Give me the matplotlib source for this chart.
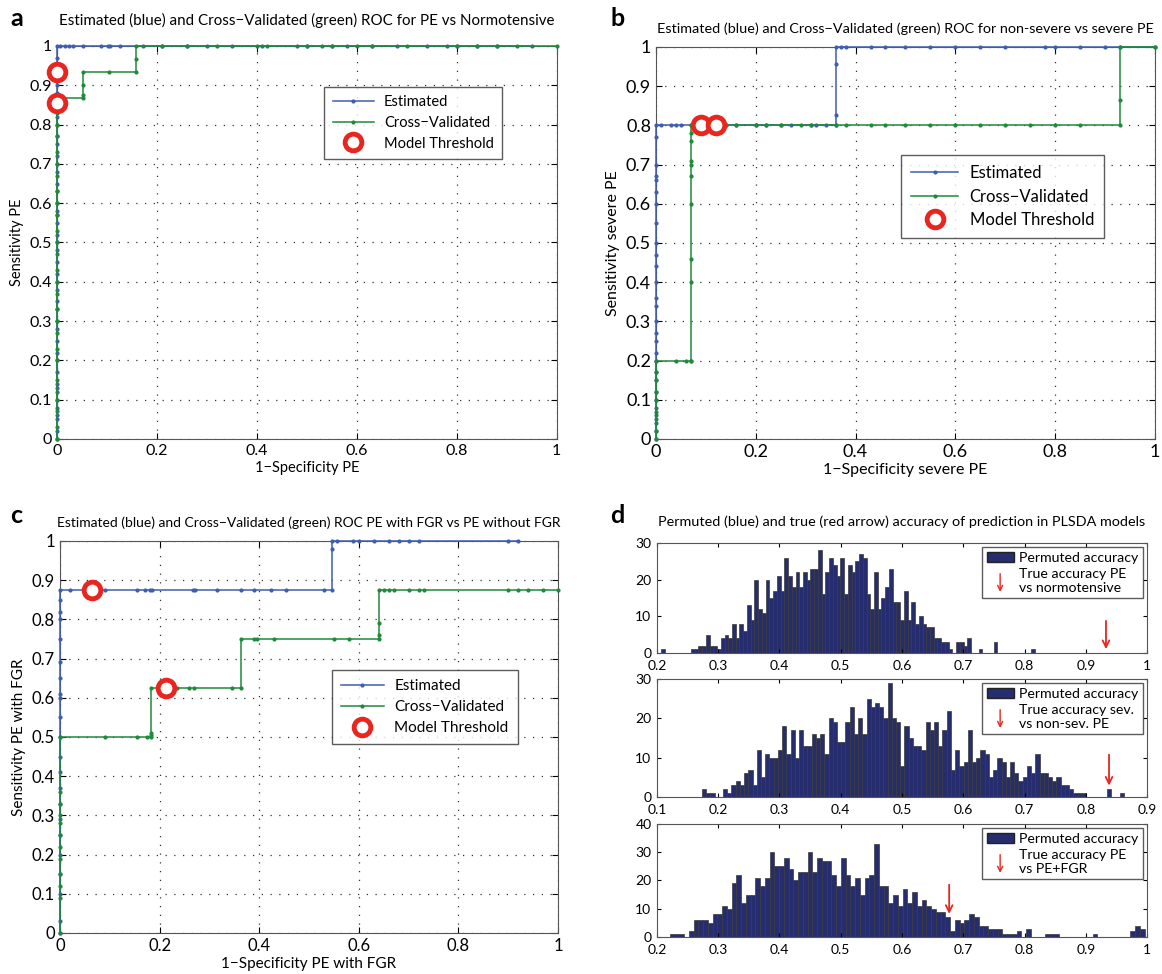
import numpy as np
import matplotlib
matplotlib.use("Agg")
from matplotlib import pyplot as plt
from matplotlib.patches import Patch, FancyArrowPatch
from matplotlib.lines import Line2D
from matplotlib.legend_handler import HandlerBase

plt.rcParams['font.family'] = ['Lato', 'DejaVu Sans']

# ---------------- data ----------------
# panel a: PE vs normotensive
a_est_y0 = [0, 0.02, 0.05, 0.06, 0.08, 0.1, 0.13, 0.14, 0.17, 0.2, 0.22, 0.25, 0.28, 0.3,
            0.33, 0.35, 0.38, 0.4, 0.42, 0.45, 0.48, 0.5, 0.52, 0.55, 0.57, 0.58, 0.6, 0.63,
            0.65, 0.68, 0.7, 0.72, 0.75, 0.77, 0.8, 0.82, 0.85, 0.87, 0.88, 0.9, 0.92, 0.93,
            0.95, 0.97, 1.0]
a_est_x1 = [0.006, 0.016, 0.025, 0.033, 0.053, 0.089, 0.103, 0.106, 0.126, 0.173, 0.21,
            0.26, 0.3, 0.35, 0.41, 0.48, 0.5, 0.55, 0.58, 0.63, 0.68, 0.74, 0.78, 0.8,
            0.84, 0.88, 0.95]
a_cv_y0 = [0, 0.03, 0.07, 0.1, 0.12, 0.15, 0.2, 0.23, 0.27, 0.3, 0.33, 0.37, 0.4, 0.43,
           0.47, 0.5, 0.53, 0.57, 0.6, 0.63, 0.67, 0.7, 0.73, 0.77, 0.8, 0.83, 0.867]
a_cv_step_x = [0.053, 0.053, 0.053, 0.053, 0.105, 0.158, 0.158, 0.158]
a_cv_step_y = [0.867, 0.875, 0.9, 0.933, 0.933, 0.933, 0.967, 1.0]
a_cv_x1 = [0.21, 0.26, 0.32, 0.4, 0.42, 0.5, 0.53, 0.55, 0.6, 0.63, 0.7, 0.8, 0.84, 0.88, 0.92, 1.0]
a_thr_x = [0, 0]
a_thr_y = [0.933, 0.855]

# panel b: non-severe vs severe PE
b_est_y0 = [0, 0.02, 0.04, 0.06, 0.08, 0.1, 0.12, 0.15, 0.17, 0.2, 0.22, 0.25, 0.27, 0.3,
            0.34, 0.36, 0.4, 0.44, 0.47, 0.5, 0.55, 0.6, 0.63, 0.66, 0.67, 0.7, 0.77, 0.8]
b_est_x8 = [0.01, 0.03, 0.04, 0.05, 0.07, 0.09, 0.12, 0.14, 0.16, 0.2, 0.22, 0.25, 0.27,
            0.31, 0.32, 0.34, 0.36]
b_est_step_x = [0.36, 0.36, 0.36]
b_est_step_y = [0.826, 0.956, 1.0]
b_est_x1 = [0.37, 0.38, 0.43, 0.46, 0.5, 0.55, 0.6, 0.65, 0.7, 0.78, 0.8, 0.85, 0.9, 0.93, 1.0]
b_cv_y0 = [0, 0.02, 0.05, 0.07, 0.1, 0.12, 0.15, 0.17, 0.2]
b_cv_x2 = [0.04, 0.06, 0.07]
b_cv_y7 = [0.2, 0.4, 0.46, 0.6, 0.67, 0.7, 0.71, 0.76, 0.78, 0.8]
b_cv_x8 = [0.09, 0.12, 0.14, 0.16, 0.2, 0.22, 0.25, 0.29, 0.31, 0.36, 0.38, 0.43, 0.46,
           0.5, 0.55, 0.6, 0.65, 0.7, 0.75, 0.8, 0.85, 0.93]
b_cv_step_y = [0.865, 1.0]
b_thr_x = [0.09, 0.121]
b_thr_y = [0.8, 0.8]

# panel c: PE with FGR vs PE without FGR
c_est_y0 = [0, 0.03, 0.1, 0.15, 0.2, 0.25, 0.29, 0.33, 0.37, 0.41, 0.45, 0.5, 0.55, 0.6,
            0.61, 0.65, 0.69, 0.75, 0.8, 0.82, 0.85, 0.875]
c_est_x875 = [0.021, 0.064, 0.09, 0.154, 0.171, 0.181, 0.184, 0.268, 0.271, 0.315,
              0.363, 0.39, 0.424, 0.454, 0.53, 0.546]
c_est_step_y = [0.98, 1.0]
c_est_x1 = [0.556, 0.589, 0.6, 0.63, 0.66, 0.68, 0.7, 0.72, 0.9, 0.92]
c_cv_y0 = [0, 0.09, 0.12, 0.15, 0.19, 0.22, 0.25, 0.28, 0.3, 0.33, 0.36, 0.5]
c_cv_x5 = [0.09, 0.155, 0.175, 0.182]
c_cv_y182 = [0.505, 0.51, 0.625]
c_cv_x625 = [0.213, 0.236, 0.26, 0.27, 0.345, 0.364]
c_cv_x75 = [0.39, 0.395, 0.43, 0.55, 0.58, 0.64]
c_cv_y64 = [0.76, 0.79, 0.875]
c_cv_x875 = [0.65, 0.66, 0.67, 0.7, 0.72, 0.73, 0.9, 0.92, 0.94, 0.97, 1.0]
c_thr_x = [0.064, 0.213]
c_thr_y = [0.875, 0.625]

# panel d: permutation histograms (100 bins each)
h1_counts = [1, 0, 0, 0, 0, 0, 0, 0, 1, 1, 2, 2, 5, 2, 2, 1, 4, 5, 4, 8,
             4, 8, 6, 13, 9, 20, 12, 11, 20, 15, 17, 21, 17, 26, 21, 18, 22, 18, 22, 20,
             23, 23, 28, 16, 22, 26, 24, 21, 26, 16, 24, 22, 25, 27, 26, 16, 12, 22, 12, 15,
             18, 23, 14, 14, 9, 17, 9, 14, 8, 10, 8, 7, 7, 4, 4, 3, 3, 1, 0, 3,
             3, 2, 4, 0, 0, 1, 0, 0, 0, 3, 0, 0, 0, 0, 0, 0, 0, 0, 0, 1]
h1_range = (0.2096, 0.8135)
h1_true = 0.933

h2_counts = [2, 1, 1, 0, 0, 2, 1, 3, 4, 3, 6, 7, 3, 12, 5, 11, 10, 10, 12, 18,
             11, 17, 10, 17, 13, 13, 16, 15, 16, 11, 20, 19, 14, 14, 19, 23, 16, 20, 16, 25,
             23, 24, 23, 20, 29, 20, 19, 8, 18, 15, 13, 13, 12, 19, 17, 19, 13, 17, 22, 7,
             12, 8, 9, 17, 9, 10, 12, 11, 5, 7, 10, 9, 5, 9, 6, 4, 5, 8, 6, 11,
             6, 6, 5, 4, 5, 3, 3, 2, 1, 1, 1, 0, 0, 0, 0, 0, 2, 0, 0, 1]
h2_range = (0.1767, 0.859)
h2_true = 0.838

h3_counts = [1, 1, 1, 0, 2, 6, 6, 6, 5, 8, 8, 11, 10, 19, 22, 12, 15, 15, 21, 18,
             21, 30, 25, 25, 28, 24, 20, 23, 23, 30, 23, 28, 27, 27, 22, 18, 28, 22, 18, 21,
             15, 21, 22, 33, 18, 18, 12, 15, 11, 17, 12, 16, 11, 13, 11, 10, 9, 9, 7, 2,
             6, 5, 6, 8, 7, 4, 4, 3, 3, 3, 1, 1, 1, 2, 0, 3, 0, 0, 0, 1,
             1, 1, 0, 0, 0, 0, 0, 0, 0, 1, 0, 0, 0, 0, 0, 0, 0, 2, 4, 3]
h3_range = (0.225, 0.9924)
h3_true = 0.677

# ---------------- styles ----------------
BLUE = '#3f5fae'
GREEN = '#1e8a3a'
RED = '#e8251f'
NAVY = '#262d6e'

fig = plt.figure(figsize=(11.62, 9.74), dpi=100)


class ArrowHandler(HandlerBase):
    # thin red down arrow for the histogram legends
    def create_artists(self, legend, orig_handle, xdescent, ydescent, width, height,
                       fontsize, trans):
        xc = width / 2 - xdescent
        a = FancyArrowPatch((xc, height * 1.5 - ydescent), (xc, -0.9 * height - ydescent),
                            arrowstyle='->', mutation_scale=9, color=RED, lw=1.0,
                            transform=trans)
        return [a]


def style_roc(ax, title, xlabel, ylabel, tsize, lsize, ksize, tpad):
    ax.set_xlim(0, 1)
    ax.set_ylim(0, 1)
    ax.set_xticks(np.arange(0, 1.01, 0.2))
    ax.set_yticks(np.arange(0, 1.01, 0.1))
    ax.set_xticklabels(['0', '0.2', '0.4', '0.6', '0.8', '1'])
    ax.set_yticklabels(['0'] + ['%.1f' % v for v in np.arange(0.1, 0.95, 0.1)] + ['1'])
    ax.grid(True, linestyle=(0, (1, 6)), color='#333333', linewidth=0.9)
    ax.tick_params(direction='in', top=True, right=True, labelsize=ksize, length=4)
    for s in ax.spines.values():
        s.set_color('#555555')
    ax.set_title(title, fontsize=tsize, pad=tpad)
    ax.set_xlabel(xlabel, fontsize=lsize, labelpad=2)
    ax.set_ylabel(ylabel, fontsize=lsize, labelpad=4)


def plot_curve(ax, x, y, color, label):
    ax.plot(x, y, color=color, linewidth=1.1, marker='.', markersize=4, label=label,
            clip_on=False, zorder=3)


def plot_thr(ax, x, y):
    ax.plot(x, y, linestyle='None', marker='o', markersize=12, markerfacecolor='white',
            markeredgecolor=RED, markeredgewidth=3.5, label='Model Threshold',
            clip_on=False, zorder=5)


def roc_legend(ax, anchor, size):
    ax.legend(loc='upper left', bbox_to_anchor=anchor, fontsize=size, frameon=True,
              fancybox=False, edgecolor='#333333', borderpad=0.6, labelspacing=0.45,
              handlelength=2.8, handletextpad=0.7)


# panel a
ax = fig.add_axes([0.049, 0.5493, 0.430, 0.4035])
ex = list(np.zeros(len(a_est_y0))) + a_est_x1
ey = a_est_y0 + list(np.ones(len(a_est_x1)))
cx = list(np.zeros(len(a_cv_y0))) + a_cv_step_x + a_cv_x1
cy = a_cv_y0 + a_cv_step_y + list(np.ones(len(a_cv_x1)))
plot_curve(ax, ex, ey, BLUE, 'Estimated')
plot_curve(ax, cx, cy, GREEN, 'Cross\u2212Validated')
plot_thr(ax, a_thr_x, a_thr_y)
style_roc(ax, 'Estimated (blue) and Cross\u2212Validated (green) ROC for PE vs Normotensive',
          '1\u2212Specificity PE', 'Sensitivity PE', 10.9, 10.5, 11.5, 15)
roc_legend(ax, (0.52, 0.915), 10.5)

# panel b
ax = fig.add_axes([0.5645, 0.5493, 0.4294, 0.4025])
ex = list(np.zeros(len(b_est_y0))) + b_est_x8 + b_est_step_x + b_est_x1
ey = b_est_y0 + [0.8] * len(b_est_x8) + b_est_step_y + list(np.ones(len(b_est_x1)))
cx = (list(np.zeros(len(b_cv_y0))) + b_cv_x2 + [b_cv_x2[-1]] * len(b_cv_y7) + b_cv_x8
      + [b_cv_x8[-1]] * len(b_cv_step_y) + [1.0])
cy = b_cv_y0 + [0.2] * len(b_cv_x2) + b_cv_y7 + [0.8] * len(b_cv_x8) + b_cv_step_y + [1.0]
plot_curve(ax, ex, ey, BLUE, 'Estimated')
plot_curve(ax, cx, cy, GREEN, 'Cross\u2212Validated')
plot_thr(ax, b_thr_x, b_thr_y)
style_roc(ax, 'Estimated (blue) and Cross\u2212Validated (green) ROC for non-severe vs severe PE',
          '1\u2212Specificity severe PE', 'Sensitivity severe PE', 10.4, 11.5, 13, 10)
roc_legend(ax, (0.475, 0.745), 12)

# panel c
ax = fig.add_axes([0.0516, 0.0421, 0.4286, 0.4025])
ex = (list(np.zeros(len(c_est_y0))) + c_est_x875 + [c_est_x875[-1]] * len(c_est_step_y)
      + c_est_x1)
ey = c_est_y0 + [0.875] * len(c_est_x875) + c_est_step_y + list(np.ones(len(c_est_x1)))
cx = (list(np.zeros(len(c_cv_y0))) + c_cv_x5 + [c_cv_x5[-1]] * len(c_cv_y182) + c_cv_x625
      + [c_cv_x625[-1]] + c_cv_x75 + [c_cv_x75[-1]] * len(c_cv_y64) + c_cv_x875)
cy = (c_cv_y0 + [0.5] * len(c_cv_x5) + c_cv_y182 + [0.625] * len(c_cv_x625) + [0.75]
      + [0.75] * len(c_cv_x75) + c_cv_y64 + [0.875] * len(c_cv_x875))
plot_curve(ax, ex, ey, BLUE, 'Estimated')
plot_curve(ax, cx, cy, GREEN, 'Cross\u2212Validated')
plot_thr(ax, c_thr_x, c_thr_y)
style_roc(ax, 'Estimated (blue) and Cross\u2212Validated (green) ROC PE with FGR vs PE without FGR',
          '1\u2212Specificity PE with FGR', 'Sensitivity PE with FGR', 10.0, 11, 12, 10)
roc_legend(ax, (0.53, 0.69), 11)

# panel d
hists = [
    (h1_counts, h1_range, h1_true, (0.2, 1.0), 30, 'True accuracy PE\nvs normotensive',
     [0.5654, 0.3296, 0.4217, 0.1129], (9.5, 0.3)),
    (h2_counts, h2_range, h2_true, (0.1, 0.9), 30, 'True accuracy sev.\nvs non-sev. PE',
     [0.5654, 0.1817, 0.4217, 0.1211], (11.5, 2.2)),
    (h3_counts, h3_range, h3_true, (0.2, 1.0), 40, 'True accuracy PE\nvs PE+FGR',
     [0.5654, 0.0380, 0.4217, 0.1160], (19.5, 7.2)),
]
for k, (counts, rng, true_acc, xl, ymax, lab, pos, arr) in enumerate(hists):
    ax = fig.add_axes(pos)
    centers = np.linspace(rng[0], rng[1], len(counts))
    w = centers[1] - centers[0]
    ax.bar(centers, counts, width=w, color=NAVY, edgecolor='#3a3a3a', linewidth=0.5)
    ax.set_xlim(*xl)
    ax.set_ylim(0, ymax)
    ax.set_xticks(np.round(np.arange(xl[0], xl[1] + 0.01, 0.1), 1))
    ax.set_xticklabels(['1' if abs(v - 1) < 1e-6 else '%.1f' % v
                        for v in np.arange(xl[0], xl[1] + 0.01, 0.1)])
    ax.set_yticks(np.arange(0, ymax + 1, 10))
    ax.tick_params(direction='in', top=True, right=True, labelsize=10, length=3)
    ax.tick_params(axis='x', pad=5)
    ax.tick_params(axis='y', pad=4)
    for s in ax.spines.values():
        s.set_color('#555555')
    ax.annotate('', xy=(true_acc, arr[1]), xytext=(true_acc, arr[0]),
                arrowprops=dict(arrowstyle='->', color=RED, lw=1.3, mutation_scale=12))
    handles = [Patch(facecolor=NAVY, edgecolor='#222222', label='Permuted accuracy'),
               Line2D([], [], color=RED, label=lab)]
    ax.legend(handles=handles, loc='upper right', fontsize=10.2, frameon=True, fancybox=False,
              edgecolor='#333333', borderpad=0.3, labelspacing=0.3, handlelength=1.9,
              handletextpad=0.4, borderaxespad=0.3,
              handler_map={Line2D: ArrowHandler()})
    if k == 0:
        ax.set_title('Permuted (blue) and true (red arrow) accuracy of prediction in PLSDA models',
                     fontsize=10.4, pad=12)

# panel letters
for lx, ly, t in [(0.009, 0.981, 'a'), (0.525, 0.981, 'b'), (0.009, 0.471, 'c'),
                  (0.525, 0.471, 'd')]:
    fig.text(lx, ly, t, fontsize=18, fontweight='bold', ha='left', va='center')

fig.savefig('out.png', dpi=100)
